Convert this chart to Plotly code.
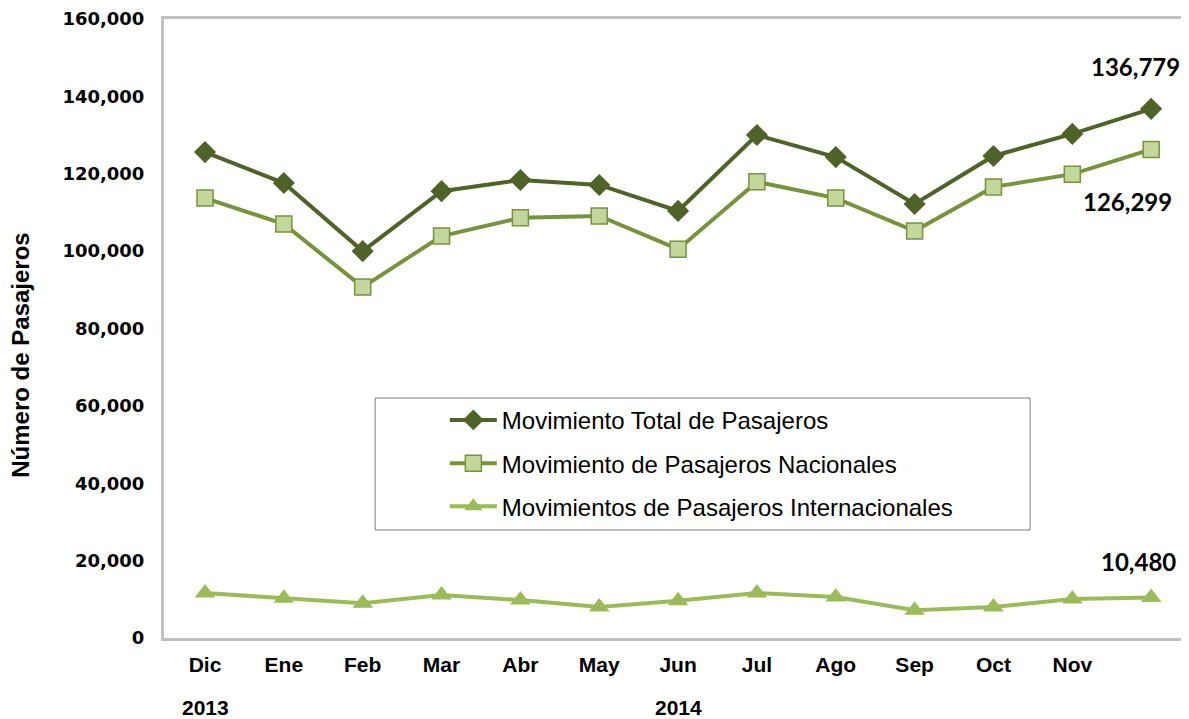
import plotly.graph_objects as go

months = ["Dic", "Ene", "Feb", "Mar", "Abr", "May", "Jun", "Jul", "Ago", "Sep", "Oct", "Nov", "Dic"]
tick_labels = ["Dic", "Ene", "Feb", "Mar", "Abr", "May", "Jun", "Jul", "Ago", "Sep", "Oct", "Nov", ""]
years = [(0, "2013"), (6, "2014")]
total = [125600, 117600, 100000, 115500, 118400, 117100, 110400, 130000, 124300, 112200, 124600, 130300, 136779]
nacionales = [113700, 107000, 90700, 103900, 108600, 109100, 100500, 117900, 113700, 105200, 116600, 119900, 126299]
internacionales = [11600, 10300, 9000, 11100, 9800, 8000, 9600, 11600, 10600, 7200, 8000, 10100, 10480]
y_ticks = [0, 20000, 40000, 60000, 80000, 100000, 120000, 140000, 160000]

idx = list(range(len(months)))

fig = go.Figure()
fig.add_trace(go.Scatter(
    x=idx, y=total, mode="lines+markers", name="Movimiento Total de Pasajeros",
    line=dict(color="#4f6228", width=4),
    marker=dict(symbol="diamond", size=17, color="#4f6228"),
    legendgroup="a",
))
fig.add_trace(go.Scatter(
    x=idx, y=nacionales, mode="lines+markers", name="Movimiento de Pasajeros Nacionales",
    line=dict(color="#77933c", width=4),
    marker=dict(symbol="square", size=16, color="#c3d69b", line=dict(color="#77933c", width=1.5)),
    legendgroup="b",
))
fig.add_trace(go.Scatter(
    x=idx, y=internacionales, mode="lines+markers", name="Movimientos de Pasajeros Internacionales",
    line=dict(color="#9bbb59", width=4),
    marker=dict(symbol="triangle-up", size=18, color="#9bbb59"),
    legendgroup="c",
))

annotations = []
label_font = dict(family="Lato, Open Sans, sans-serif", size=24, color="#000000")
annotations.append(dict(x=idx[-1], y=total[-1], xref="x", yref="y", text=f"<b>{total[-1]:,}</b>",
                        showarrow=False, xshift=-16, yshift=42, font=label_font))
annotations.append(dict(x=idx[-1], y=nacionales[-1], xref="x", yref="y", text=f"<b>{nacionales[-1]:,}</b>",
                        showarrow=False, xshift=-24, yshift=-52, font=label_font))
annotations.append(dict(x=idx[-1], y=internacionales[-1], xref="x", yref="y", text=f"<b>{internacionales[-1]:,}</b>",
                        showarrow=False, xshift=-13, yshift=36, font=label_font))
for xi, yr in years:
    annotations.append(dict(x=xi, y=0, xref="x", yref="paper", text=f"<b>{yr}</b>", showarrow=False,
                            yanchor="middle", yshift=-69,
                            font=dict(family="Liberation Sans, Arial, sans-serif", size=21, color="#000000")))
annotations.append(dict(x=0, y=0.456, xref="paper", yref="paper", text="<b>Número de Pasajeros</b>",
                        textangle=-90, showarrow=False, xanchor="center", yanchor="middle", xshift=-143,
                        font=dict(family="Liberation Sans, Arial, sans-serif", size=24, color="#000000")))

# page has ~8px body margin; compensate
fig.update_layout(
    width=1181, height=711,
    margin=dict(l=156, r=0, t=11, b=81),
    paper_bgcolor="white", plot_bgcolor="white",
    showlegend=True,
    legend=dict(
        x=0.274, y=0.388, xanchor="left", yanchor="top",
        font=dict(family="Liberation Sans, Arial, sans-serif", size=24, color="#000000"),
        bgcolor="rgba(0,0,0,0)", tracegroupgap=9, itemwidth=47,
    ),
    annotations=annotations,
    shapes=[dict(type="rect", xref="paper", yref="paper", x0=0.206, x1=0.845, y0=0.1745, y1=0.3877,
                 line=dict(color="#7f7f7f", width=1), fillcolor="rgba(0,0,0,0)", layer="below")],
)
fig.update_xaxes(
    range=[-0.52, 12.48], tickmode="array", tickvals=idx, ticktext=["<b>%s</b>" % t for t in tick_labels],
    showgrid=False, zeroline=False, showline=True, linecolor="#c0c0c0", linewidth=3, mirror=True,
    ticks="outside", ticklen=6, tickcolor="rgba(0,0,0,0)",
    tickfont=dict(family="Liberation Sans, Arial, sans-serif", size=21, color="#000000"),
)
fig.update_yaxes(
    range=[0, 160000], tickmode="array", tickvals=y_ticks, ticktext=["<b>%s</b>" % f"{v:,}" for v in y_ticks],
    showgrid=False, zeroline=False, showline=True, linecolor="#c0c0c0", linewidth=3, mirror=False,
    ticks="outside", ticklen=13, tickcolor="rgba(0,0,0,0)",
    tickfont=dict(family="DejaVu Sans, sans-serif", size=18, color="#000000"),
)

fig.write_html("out.html")
